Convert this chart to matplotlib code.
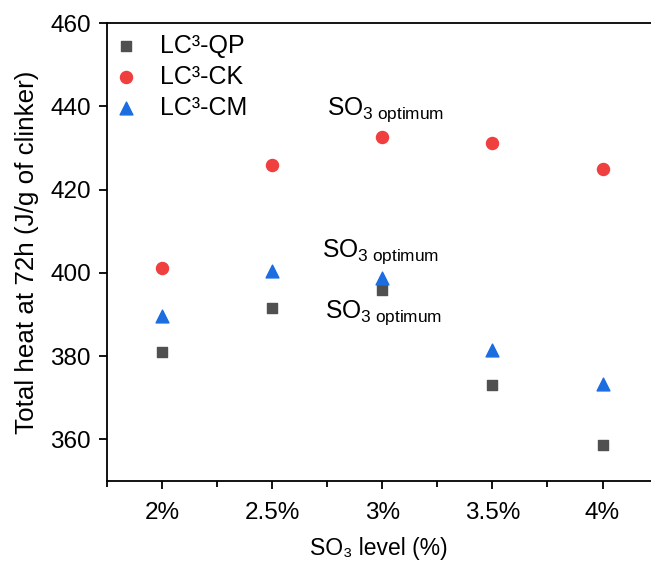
import matplotlib
matplotlib.use('Agg')
import matplotlib.pyplot as plt

plt.rcParams['font.family'] = ['Liberation Sans', 'DejaVu Sans']
plt.rcParams['mathtext.fontset'] = 'custom'
plt.rcParams['mathtext.rm'] = 'Liberation Sans'
plt.rcParams['mathtext.it'] = 'Liberation Sans'

# data
so3_level = [2.0, 2.5, 3.0, 3.5, 4.0]
tick_labels = ['2%', '2.5%', '3%', '3.5%', '4%']
heat_qp = [381.0, 391.5, 396.0, 373.0, 358.6]
heat_ck = [401.2, 425.9, 432.7, 431.2, 424.9]
heat_cm = [389.7, 400.5, 398.7, 381.5, 373.2]
series_names = ['LC³-QP', 'LC³-CK', 'LC³-CM']
# optimum label anchors (x, y)
opt_x = [2.749, 2.726, 2.741]
opt_y = [437.9, 403.9, 389.2]

fig = plt.figure(figsize=(6.51, 5.62), dpi=100)
ax = fig.add_axes([0.1644, 0.144, 0.8356, 0.815])

ax.scatter(so3_level, heat_qp, marker='s', s=60, color='#505050', label=series_names[0], zorder=3)
ax.scatter(so3_level, heat_ck, marker='o', s=75, color='#ef3f3f', label=series_names[1], zorder=3)
ax.scatter(so3_level, heat_cm, marker='^', s=85, color='#1b6de0', label=series_names[2], zorder=3)

for x, y in zip(opt_x, opt_y):
    ax.text(x, y, r'SO$_{\mathrm{3\ optimum}}$', fontsize=17.7, ha='left', va='baseline')

ax.set_xlim(1.75, 4.22)
ax.set_ylim(350, 460)
ax.set_xticks(so3_level)
ax.set_xticklabels(tick_labels)
ax.set_xticks([1.75, 2.25, 2.75, 3.25, 3.75], minor=True)
ax.set_yticks([360, 380, 400, 420, 440, 460])

ax.spines['right'].set_visible(False)
for sp in ax.spines.values():
    sp.set_linewidth(1.3)
ax.tick_params(axis='both', which='major', direction='out', length=6, width=1.3, labelsize=17.5, pad=5.5)
ax.tick_params(axis='x', which='minor', direction='out', length=4, width=1.3)
ax.tick_params(axis='x', pad=9)

ax.set_xlabel('SO₃ level (%)', fontsize=16.5, labelpad=9.5)
ax.set_ylabel('Total heat at 72h (J/g of clinker)', fontsize=18.7, labelpad=8)

ax.legend(loc='upper left', bbox_to_anchor=(0.003, 0.988), frameon=False,
          fontsize=18, handlelength=1.0, handletextpad=0.85, labelspacing=0.28,
          borderpad=0.2, borderaxespad=0)

plt.savefig('out.png', dpi=100)
